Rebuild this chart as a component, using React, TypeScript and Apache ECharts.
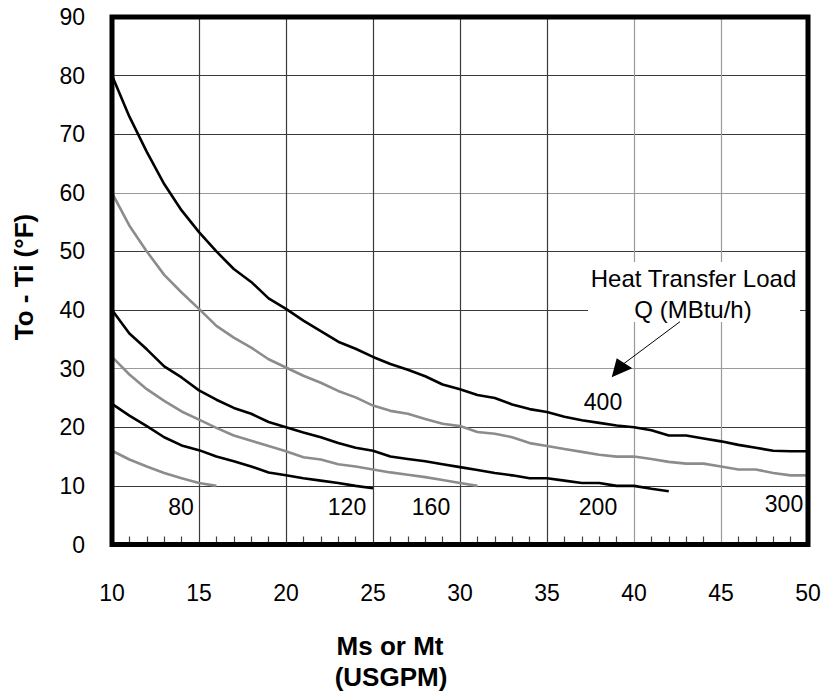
import React, { useEffect, useRef } from "react";
import * as echarts from "echarts";

// Flow rate (USGPM) positions for each curve
const flowFull: number[] = [10, 11, 12, 13, 14, 15, 16, 17, 18, 19, 20, 21, 22, 23, 24, 25, 26, 27, 28, 29, 30, 31, 32, 33, 34, 35, 36, 37, 38, 39, 40, 41, 42, 43, 44, 45, 46, 47, 48, 49, 50];

// Temperature difference To - Ti (°F)
const q400: number[] = [80, 73, 67, 61.5, 57, 53.3, 50, 47, 44.8, 42, 40.2, 38.2, 36.4, 34.6, 33.4, 32, 30.8, 29.8, 28.7, 27.3, 26.5, 25.5, 25, 23.9, 23.1, 22.6, 21.8, 21.2, 20.75, 20.3, 20, 19.5, 18.6, 18.6, 18.1, 17.6, 17, 16.5, 16, 15.9, 15.9];
const q300: number[] = [60, 54.4, 50, 46, 43, 40.2, 37.3, 35.3, 33.6, 31.6, 30.2, 28.8, 27.6, 26.2, 25.1, 23.7, 22.8, 22.3, 21.4, 20.6, 20.2, 19.2, 18.9, 18.3, 17.3, 16.8, 16.3, 15.8, 15.3, 15, 15, 14.6, 14.1, 13.8, 13.8, 13.3, 12.8, 12.8, 12.2, 11.8, 11.8];
const q200: number[] = [40, 36, 33.3, 30.4, 28.5, 26.3, 24.7, 23.3, 22.3, 20.9, 20, 19.1, 18.3, 17.3, 16.5, 16, 15, 14.6, 14.2, 13.7, 13.2, 12.7, 12.2, 11.8, 11.3, 11.3, 10.9, 10.5, 10.5, 10, 10, 9.5, 9.1];
const q160: number[] = [32, 29, 26.5, 24.5, 22.7, 21.3, 19.9, 18.6, 17.7, 16.8, 15.9, 14.9, 14.5, 13.7, 13.3, 12.8, 12.3, 11.9, 11.5, 11, 10.5, 10];
const q120: number[] = [24, 22, 20.2, 18.3, 16.9, 16.1, 15, 14.2, 13.3, 12.3, 11.8, 11.3, 10.9, 10.5, 10, 9.6];
const q80: number[] = [16, 14.5, 13.3, 12.2, 11.3, 10.5, 10];

const loadLabels: string[] = ["80", "120", "160", "200", "300", "400"];
const xTicks = { min: 10, max: 50, interval: 5 };
const yTicks = { min: 0, max: 90, interval: 10 };

const FONT = "'Liberation Sans', Arial, Helvetica, sans-serif";
const BLACK = "#000000";
const GRAY = "#8c8c8c";

function pairs(vals: number[]): number[][] {
  return vals.map((v, i) => [flowFull[i], v]);
}

export default function App() {
  const ref = useRef<HTMLDivElement>(null);
  useEffect(() => {
    document.body.style.margin = "0";
    if (!ref.current) return;
    const chart = echarts.init(ref.current, null, { renderer: "svg" });
    const curves = [
      { d: q80, c: GRAY },
      { d: q120, c: BLACK },
      { d: q160, c: GRAY },
      { d: q200, c: BLACK },
      { d: q300, c: GRAY },
      { d: q400, c: BLACK },
    ];
    const dark = "#3a3a3a";
    const light = "#9a9a9a";
    const labelPos: number[][] = [
      [181, 507],
      [347, 507],
      [431, 507],
      [598, 507],
      [784, 504],
      [603, 402],
    ];
    chart.setOption({
      animation: false,
      backgroundColor: "#ffffff",
      grid: {
        left: 112,
        top: 17,
        width: 696,
        height: 527.5,
        show: true,
        borderWidth: 5,
        borderColor: "#000",
        backgroundColor: "transparent",
        z: 3,
      },
      xAxis: {
        type: "value",
        min: xTicks.min,
        max: xTicks.max,
        interval: xTicks.interval,
        axisLine: { show: false },
        axisTick: { show: false, inside: true },
        minorTick: { show: true, splitNumber: 5, length: 8, lineStyle: { color: "#444", width: 1.2 } },
        axisLabel: { fontFamily: FONT, fontSize: 23, color: "#000", margin: 37 },
        splitLine: {
          show: true,
          lineStyle: { color: [dark, dark, dark, dark, dark, dark, light, light, dark], width: 1.2 },
        },
      },
      yAxis: {
        type: "value",
        min: yTicks.min,
        max: yTicks.max,
        interval: yTicks.interval,
        axisLine: { show: false },
        axisTick: { show: false },
        axisLabel: { fontFamily: FONT, fontSize: 23, color: "#000", margin: 27 },
        splitLine: {
          show: true,
          lineStyle: { color: [dark, dark, dark, light, dark, dark, light, dark, dark, dark], width: 1.2 },
        },
      },
      series: curves.map((cv, i) => ({
        type: "line",
        name: loadLabels[i],
        data: pairs(cv.d),
        symbol: "none",
        smooth: false,
        clip: false,
        lineStyle: { color: cv.c, width: 2.6 },
        z: 2,
      })),
      graphic: [
        {
          type: "rect",
          shape: { x: 588, y: 262, width: 212, height: 60 },
          style: { fill: "#fff" },
          z: 50,
        },
        {
          type: "text",
          x: 693.5,
          y: 278,
          style: { text: "Heat Transfer Load", font: `24px ${FONT}`, fill: "#000", align: "center", verticalAlign: "middle" },
          z: 51,
        },
        {
          type: "text",
          x: 693,
          y: 309,
          style: { text: "Q (MBtu/h)", font: `24px ${FONT}`, fill: "#000", align: "center", verticalAlign: "middle" },
          z: 51,
        },
        {
          type: "line",
          shape: { x1: 680, y1: 321.7, x2: 624, y2: 363.5 },
          style: { stroke: "#000", lineWidth: 1 },
          z: 51,
        },
        {
          type: "polygon",
          shape: { points: [[611.7, 377.3], [616.7, 358.3], [632.3, 368.3]] },
          style: { fill: "#000" },
          z: 51,
        },
        ...loadLabels.map((t, i) => ({
          type: "text",
          x: labelPos[i][0],
          y: labelPos[i][1],
          style: { text: t, font: `23px ${FONT}`, fill: "#000", align: "center", verticalAlign: "middle" },
          z: 51,
        })),
        {
          type: "text",
          x: 24,
          y: 277,
          rotation: Math.PI / 2,
          style: { text: "To - Ti (°F)", font: `bold 26px ${FONT}`, fill: "#000", align: "center", verticalAlign: "middle" },
          z: 51,
        },
        {
          type: "text",
          x: 390,
          y: 646,
          style: { text: "Ms or Mt", font: `bold 26px ${FONT}`, fill: "#000", align: "center", verticalAlign: "middle" },
          z: 51,
        },
        {
          type: "text",
          x: 391,
          y: 677,
          style: { text: "(USGPM)", font: `bold 26px ${FONT}`, fill: "#000", align: "center", verticalAlign: "middle" },
          z: 51,
        },
      ],
    });
    return () => chart.dispose();
  }, []);
  return <div ref={ref} style={{ width: 831, height: 692 }} />;
}
